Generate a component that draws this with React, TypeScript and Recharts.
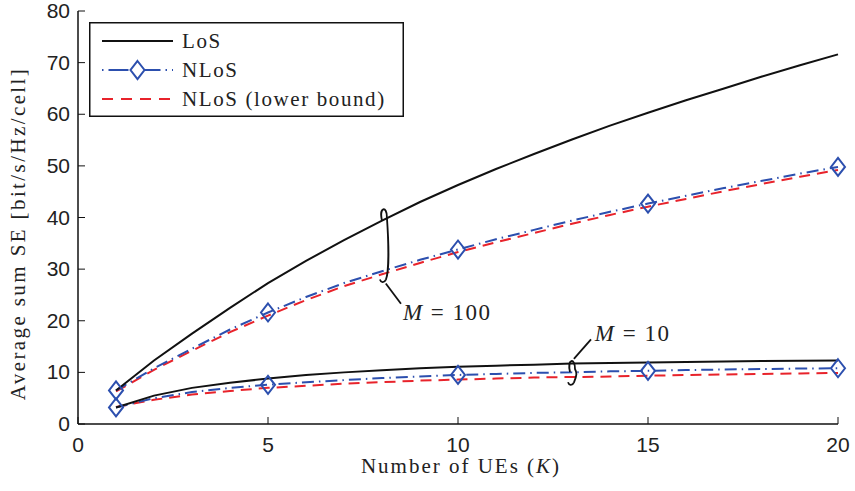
import * as React from "react"
import {
  LineChart,
  Line,
  XAxis,
  YAxis,
  ReferenceLine,
  ReferenceDot,
} from "recharts"

const K = [1, 2, 3, 4, 5, 6, 7, 8, 9, 10, 11, 12, 13, 14, 15, 16, 17, 18, 19, 20]

// M = 100
const losM100 = [6.5, 12.3, 17.5, 22.5, 27.3, 31.6, 35.6, 39.4, 43.0, 46.3, 49.4, 52.3, 55.1, 57.8, 60.3, 62.7, 65.0, 67.3, 69.5, 71.6]
const nlosM100 = [6.5, 10.8, 14.6, 18.3, 21.6, 24.6, 27.3, 29.6, 31.8, 33.8, 35.8, 37.6, 39.4, 41.1, 42.7, 44.2, 45.7, 47.1, 48.5, 49.8]
const lbM100 = [6.3, 10.5, 14.2, 17.8, 21.0, 24.0, 26.7, 29.0, 31.2, 33.3, 35.2, 37.0, 38.8, 40.5, 42.1, 43.6, 45.1, 46.5, 47.9, 49.2]

// M = 10
const losM10 = [3.2, 5.5, 7.0, 8.0, 8.8, 9.5, 10.0, 10.4, 10.8, 11.1, 11.3, 11.5, 11.7, 11.8, 11.9, 12.0, 12.1, 12.2, 12.25, 12.3]
const nlosM10 = [3.2, 5.0, 6.2, 7.0, 7.6, 8.1, 8.5, 8.9, 9.2, 9.5, 9.7, 9.9, 10.0, 10.2, 10.3, 10.45, 10.55, 10.65, 10.75, 10.8]
const lbM10 = [3.3, 4.7, 5.7, 6.4, 7.0, 7.4, 7.8, 8.1, 8.4, 8.6, 8.8, 9.0, 9.1, 9.2, 9.35, 9.5, 9.6, 9.7, 9.8, 9.9]

const markerK = [1, 5, 10, 15, 20]
const xTicks = [0, 5, 10, 15, 20]
const yTicks = [0, 10, 20, 30, 40, 50, 60, 70, 80]

// annotation anchors (data coords)
const brace100 = { k: 8.05, top: 41.8, bottom: 27.4 }
const leader100 = { k1: 8.1, y1: 27.2, k2: 8.5, y2: 23.3 }
const label100 = { k: 8.55, y: 21.6, text: "100" }
const brace10 = { k: 13.0, top: 12.4, bottom: 7.5 }
const leader10 = { k1: 13.05, y1: 12.6, k2: 13.5, y2: 16.4 }
const label10 = { k: 13.6, y: 17.6, text: "10" }

const BLUE = "#2c4fae"
const RED = "#e8232b"
const BLACK = "#111"

const data = K.map((k, i) => ({
  k,
  losM100: losM100[i],
  nlosM100: nlosM100[i],
  lbM100: lbM100[i],
  losM10: losM10[i],
  nlosM10: nlosM10[i],
  lbM10: lbM10[i],
}))

const tickFont = { fontFamily: "'Liberation Sans', Arial, sans-serif", fontSize: 21, fill: "#222" }
const serif = "'Liberation Serif', 'DejaVu Serif', serif"

const Diamond = (props: any) => {
  const { cx, cy, payload } = props
  if (!markerK.includes(payload.k)) return <g key={props.key} />
  return (
    <path
      key={props.key}
      d={`M${cx},${cy - 9} L${cx + 7},${cy} L${cx},${cy + 9} L${cx - 7},${cy} Z`}
      fill="none"
      stroke={BLUE}
      strokeWidth={2}
    />
  )
}

const BottomTick = (props: any) => {
  const { x, y, payload } = props
  return (
    <g>
      <line x1={x} y1={y} x2={x} y2={y - 7} stroke={BLACK} strokeWidth={1} />
      <text x={x} y={y + 28} textAnchor="middle" {...tickFont}>{payload.value}</text>
    </g>
  )
}
const TopTick = (props: any) => {
  const { x, y } = props
  return <line x1={x} y1={y} x2={x} y2={y + 7} stroke={BLACK} strokeWidth={1} />
}
const LeftTick = (props: any) => {
  const { x, y, payload } = props
  return (
    <g>
      <line x1={x} y1={y} x2={x + 7} y2={y} stroke={BLACK} strokeWidth={1} />
      <text x={x - 8} y={y + 7} textAnchor="end" {...tickFont}>{payload.value}</text>
    </g>
  )
}
const RightTick = (props: any) => {
  const { x, y } = props
  return <line x1={x} y1={y} x2={x - 7} y2={y} stroke={BLACK} strokeWidth={1} />
}

const Brace = (props: any) => {
  const { x1, y1, y2 } = props
  const cx = x1
  const top = Math.min(y1, y2)
  const bot = Math.max(y1, y2)
  const d =
    `M${cx - 2},${top + 12} C${cx - 5},${top - 1} ${cx + 3},${top - 3} ${cx + 3},${top + 9} ` +
    `C${cx + 5},${(top + bot) / 2} ${cx + 5},${bot - 10} ${cx + 2},${bot - 3} ` +
    `C${cx},${bot + 1} ${cx - 3},${bot} ${cx - 4},${bot - 3}`
  return <path d={d} fill="none" stroke={BLACK} strokeWidth={1.8} />
}

const MLabel = (text: string) => (props: any) => (
  <text x={props.cx} y={props.cy + 8} fontFamily={serif} fontSize={23} fill="#222" letterSpacing={1.5}>
    <tspan fontStyle="italic">M</tspan> = {text}
  </text>
)

const XLabel = (props: any) => {
  const { viewBox } = props
  return (
    <text x={viewBox.x + viewBox.width / 2 + 3} y={473} textAnchor="middle" fontFamily={serif} fontSize={21} fill="#222" letterSpacing={2}>
      Number of UEs (<tspan fontStyle="italic">K</tspan>)
    </text>
  )
}

const YLabel = (props: any) => {
  const { viewBox } = props
  const cx = 25
  const cy = viewBox.y + viewBox.height / 2 + 16
  return (
    <text x={cx} y={cy} transform={`rotate(-90, ${cx}, ${cy})`} textAnchor="middle" fontFamily={serif} fontSize={21} fill="#222" letterSpacing={2.4}>
      Average sum SE [bit/s/Hz/cell]
    </text>
  )
}

const legendItems = [
  { label: "LoS", color: BLACK, dash: undefined as string | undefined, marker: false },
  { label: "NLoS", color: BLUE, dash: "1.5 5 20 12 20 5", marker: true },
  { label: "NLoS (lower bound)", color: RED, dash: "11 8", marker: false },
]

const LegendBox = () => (
  <svg width={315} height={95} style={{ display: "block" }}>
    <rect x={0.75} y={0.75} width={313.5} height={93.5} fill="#fff" stroke={BLACK} strokeWidth={1.5} />
    {legendItems.map((it, i) => {
      const y = 19 + i * 29
      return (
        <g key={it.label}>
          <line x1={13} x2={84} y1={y} y2={y} stroke={it.color} strokeWidth={2} strokeDasharray={it.dash} />
          {it.marker ? (
            <path d={`M48.5,${y - 9} L55.5,${y} L48.5,${y + 9} L41.5,${y} Z`} fill="#fff" stroke={BLUE} strokeWidth={2} />
          ) : null}
          <text x={93} y={y + 7} fontFamily={serif} fontSize={21} fill="#222" letterSpacing={1.6}>{it.label}</text>
        </g>
      )
    })}
  </svg>
)

export default function App() {
  return (
    <div style={{ position: "absolute", left: 0, top: 0, width: 855, height: 491, background: "#fff" }}>
      <LineChart width={855} height={491} data={data} margin={{ top: 11, right: 17, bottom: 0, left: 0 }}>
        <XAxis
          dataKey="k"
          type="number"
          domain={[0, 20]}
          ticks={xTicks}
          interval={0}
          height={67}
          tickSize={0}
          tickMargin={0}
          tick={<BottomTick />}
          axisLine={{ stroke: BLACK, strokeWidth: 1.5 }}
          tickLine={false}
          label={<XLabel />}
        />
        <XAxis
          xAxisId="top"
          orientation="top"
          dataKey="k"
          type="number"
          domain={[0, 20]}
          ticks={xTicks}
          interval={0}
          height={0}
          tickSize={0}
          tickMargin={0}
          tick={<TopTick />}
          axisLine={{ stroke: BLACK, strokeWidth: 1.5 }}
          tickLine={false}
        />
        <YAxis
          type="number"
          domain={[0, 80]}
          ticks={yTicks}
          interval={0}
          width={78}
          tickSize={0}
          tickMargin={0}
          tick={<LeftTick />}
          axisLine={{ stroke: BLACK, strokeWidth: 1.5 }}
          tickLine={false}
          label={<YLabel />}
        />
        <YAxis
          yAxisId="right"
          orientation="right"
          type="number"
          domain={[0, 80]}
          ticks={yTicks}
          interval={0}
          width={0}
          tickSize={0}
          tickMargin={0}
          tick={<RightTick />}
          axisLine={{ stroke: BLACK, strokeWidth: 1.5 }}
          tickLine={false}
        />

        <Line dataKey="lbM100" stroke={RED} strokeWidth={2} strokeDasharray="11 7" dot={false} isAnimationActive={false} />
        <Line dataKey="lbM10" stroke={RED} strokeWidth={2} strokeDasharray="11 7" dot={false} isAnimationActive={false} />
        <Line dataKey="nlosM100" stroke={BLUE} strokeWidth={2} strokeDasharray="12 5 1.5 5" dot={<Diamond />} isAnimationActive={false} />
        <Line dataKey="nlosM10" stroke={BLUE} strokeWidth={2} strokeDasharray="12 5 1.5 5" dot={<Diamond />} isAnimationActive={false} />
        <Line dataKey="losM100" stroke={BLACK} strokeWidth={2} dot={false} isAnimationActive={false} />
        <Line dataKey="losM10" stroke={BLACK} strokeWidth={2} dot={false} isAnimationActive={false} />

        <ReferenceLine
          segment={[{ x: brace100.k, y: brace100.top }, { x: brace100.k, y: brace100.bottom }]}
          shape={<Brace />}
        />
        <ReferenceLine
          segment={[{ x: leader100.k1, y: leader100.y1 }, { x: leader100.k2, y: leader100.y2 }]}
          stroke={BLACK}
          strokeWidth={1.8}
        />
        <ReferenceDot x={label100.k} y={label100.y} r={0} shape={MLabel(label100.text)} />
        <ReferenceLine
          segment={[{ x: brace10.k, y: brace10.top }, { x: brace10.k, y: brace10.bottom }]}
          shape={<Brace />}
        />
        <ReferenceLine
          segment={[{ x: leader10.k1, y: leader10.y1 }, { x: leader10.k2, y: leader10.y2 }]}
          stroke={BLACK}
          strokeWidth={1.8}
        />
        <ReferenceDot x={label10.k} y={label10.y} r={0} shape={MLabel(label10.text)} />
      </LineChart>
      <div style={{ position: "absolute", left: 89, top: 22 }}>
        <LegendBox />
      </div>
    </div>
  )
}
